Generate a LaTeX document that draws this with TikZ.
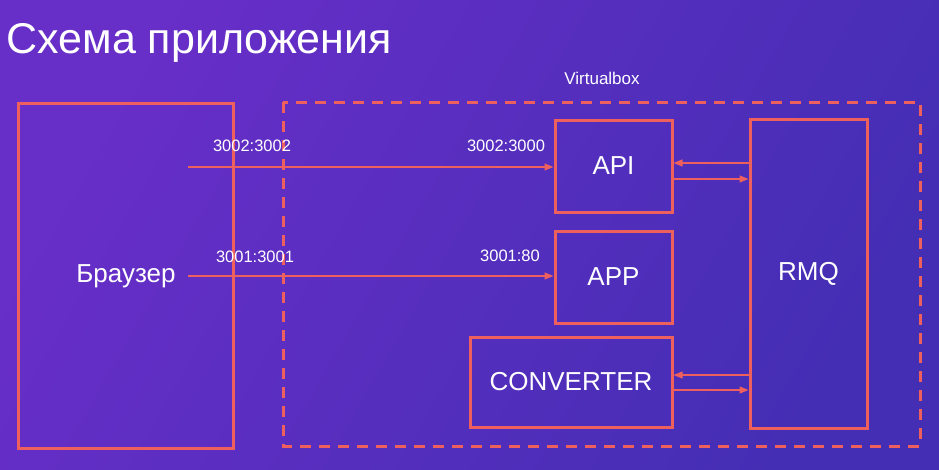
\documentclass[tikz,border=0pt]{standalone}
\usepackage{fontspec}
\setmainfont{Liberation Sans}
\usetikzlibrary{arrows.meta}
\definecolor{bgtl}{RGB}{104,46,200}
\definecolor{bgbr}{RGB}{68,46,180}
\definecolor{coral}{RGB}{238,96,94}
\begin{document}
\begin{tikzpicture}[x=1pt,y=-1pt,
  box/.style={draw=coral,line width=3pt,text=white,font=\fontsize{26}{30}\selectfont,inner sep=0pt},
  port/.style={text=white,font=\fontsize{16.5}{19}\selectfont,inner sep=0pt},
  link/.style={draw=coral,line width=1.2pt,-{Triangle[length=9pt,width=7pt]}}]
\shade[left color=bgtl,right color=bgbr,shading angle=60] (0,0) rectangle (939,469);
\useasboundingbox (0,0) rectangle (939,469);
\node[anchor=west,text=white,font=\fontsize{43}{48}\selectfont] (title) at (3,43) {Схема приложения};
\node[port,font=\fontsize{17}{19}\selectfont] (vblabel) at (602,78) {Virtualbox};
\draw[coral,line width=3pt,dash pattern=on 11pt off 8pt] (283,102) rectangle (920,446);
\node[box,minimum width=215pt,minimum height=345pt] (browser) at (125.5,275.5) {};
\node[text=white,font=\fontsize{26}{30}\selectfont] (browsertext) at (126,276) {Браузер};
\node[box,minimum width=117pt,minimum height=92pt] (api) at (613.5,166) {API};
\node[box,minimum width=117pt,minimum height=92pt] (app) at (613.5,277) {APP};
\node[box,minimum width=202pt,minimum height=90pt] (conv) at (571,382) {CONVERTER};
\node[box,minimum width=117pt,minimum height=309pt] (rmq) at (808.5,273.5) {RMQ};
\coordinate (s1) at (188,167);
\coordinate (s2) at (188,276);
\draw[link] (s1) -- (s1 -| api.west);
\draw[link] (s2) -- (s2 -| app.west);
\node[port] (l1) at (252,146) {3002:3002};
\node[port] (l2) at (506,146) {3002:3000};
\node[port] (l3) at (255,257) {3001:3001};
\node[port] (l4) at (510,256) {3001:80};
\draw[link] ([yshift=3pt]rmq.west |- api.center) -- ([yshift=3pt]api.east);
\draw[link] ([yshift=-13pt]api.east) -- ([yshift=-13pt]rmq.west |- api.center);
\draw[link] ([yshift=7pt]rmq.west |- conv.center) -- ([yshift=7pt]conv.east);
\draw[link] ([yshift=-8pt]conv.east) -- ([yshift=-8pt]rmq.west |- conv.center);
\end{tikzpicture}
\end{document}
